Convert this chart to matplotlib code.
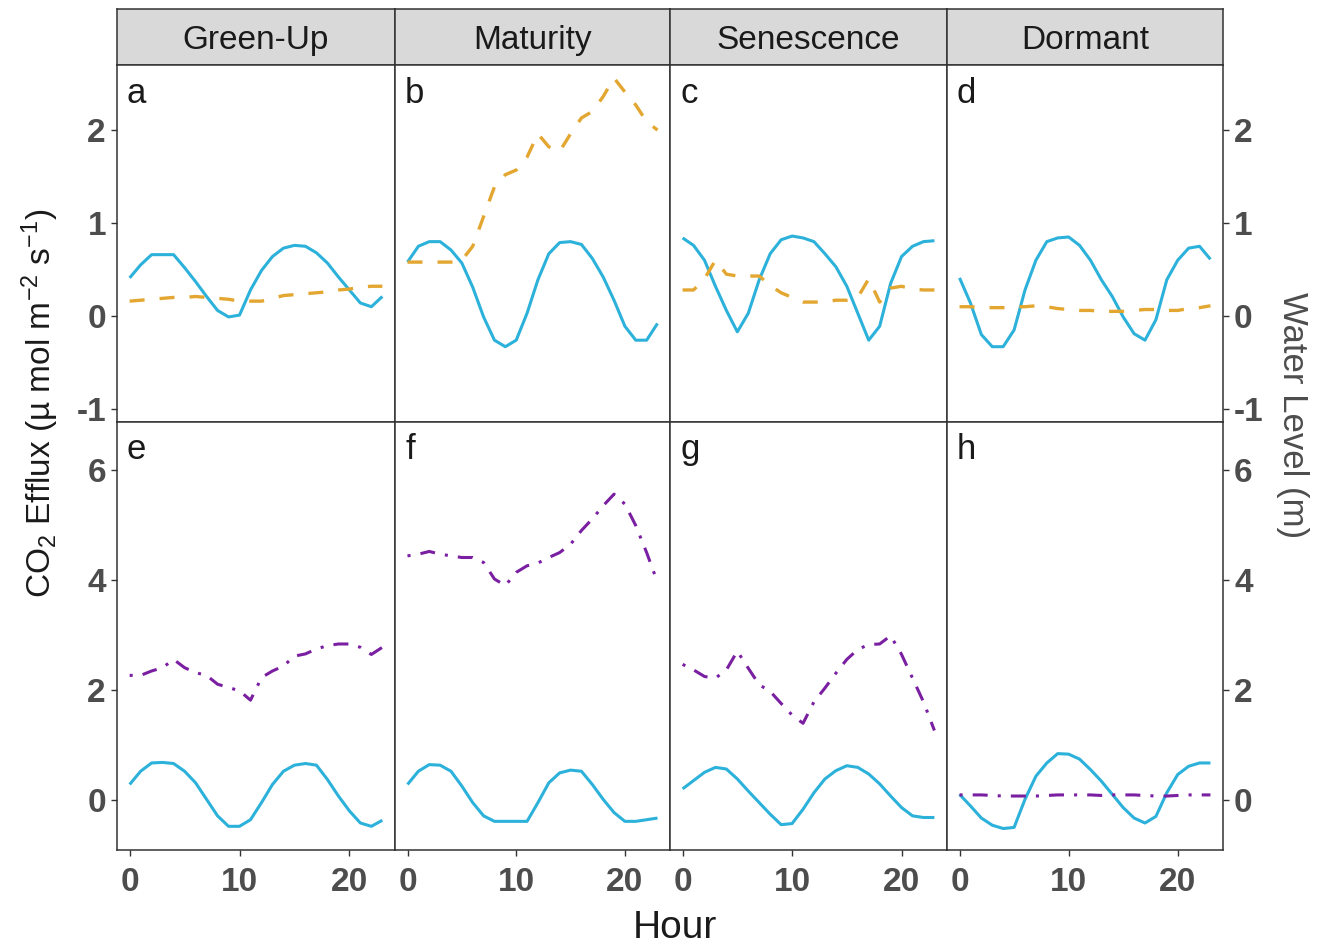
#%% Imports
import numpy as np
import matplotlib.pyplot as plt

plt.rcParams['font.family'] = ['Liberation Sans', 'DejaVu Sans']
plt.rcParams['mathtext.fontset'] = 'custom'
plt.rcParams['mathtext.rm'] = 'Liberation Sans'
plt.rcParams['mathtext.it'] = 'Liberation Sans:italic'
plt.rcParams['mathtext.bf'] = 'Liberation Sans:bold'
plt.rcParams['axes.unicode_minus'] = False

#%% Data (hourly)
hours = np.arange(24)
phases = ['Green-Up', 'Maturity', 'Senescence', 'Dormant']
letters_top = ['a', 'b', 'c', 'd']
letters_bottom = ['e', 'f', 'g', 'h']

# top row: CO2 efflux (solid) and water level (dashed)
co2_top_greenup = [0.41, 0.55, 0.66, 0.66, 0.66, 0.52, 0.37, 0.21, 0.06, -0.01, 0.01, 0.28,
                   0.49, 0.64, 0.73, 0.76, 0.75, 0.68, 0.57, 0.42, 0.28, 0.14, 0.10, 0.21]
co2_top_maturity = [0.58, 0.75, 0.80, 0.80, 0.71, 0.57, 0.31, -0.01, -0.26, -0.33, -0.26, 0.03,
                    0.39, 0.67, 0.79, 0.80, 0.77, 0.62, 0.42, 0.17, -0.11, -0.26, -0.26, -0.08]
co2_top_senescence = [0.84, 0.76, 0.60, 0.32, 0.06, -0.17, 0.03, 0.39, 0.67, 0.82, 0.86, 0.84,
                      0.80, 0.67, 0.53, 0.32, 0.03, -0.26, -0.11, 0.35, 0.64, 0.75, 0.80, 0.81]
co2_top_dormant = [0.41, 0.14, -0.20, -0.33, -0.33, -0.15, 0.28, 0.60, 0.80, 0.84, 0.85, 0.76,
                   0.60, 0.39, 0.21, -0.01, -0.19, -0.26, -0.04, 0.39, 0.60, 0.73, 0.75, 0.61]

level_top_greenup = [0.16, 0.17, 0.18, 0.19, 0.20, 0.20, 0.21, 0.20, 0.19, 0.18, 0.16, 0.16,
                     0.16, 0.19, 0.22, 0.23, 0.24, 0.25, 0.26, 0.28, 0.29, 0.31, 0.32, 0.32]
level_top_maturity = [0.58, 0.58, 0.58, 0.58, 0.58, 0.60, 0.75, 1.07, 1.39, 1.52, 1.57, 1.71,
                      1.96, 1.82, 1.77, 1.96, 2.13, 2.20, 2.36, 2.56, 2.41, 2.27, 2.09, 2.00]
level_top_senescence = [0.28, 0.28, 0.40, 0.60, 0.45, 0.43, 0.43, 0.43, 0.33, 0.25, 0.20, 0.15,
                        0.15, 0.15, 0.17, 0.17, 0.20, 0.40, 0.15, 0.30, 0.32, 0.29, 0.28, 0.28]
level_top_dormant = [0.10, 0.10, 0.09, 0.09, 0.09, 0.10, 0.10, 0.11, 0.10, 0.08, 0.07, 0.06,
                     0.06, 0.05, 0.05, 0.05, 0.06, 0.07, 0.07, 0.06, 0.06, 0.08, 0.09, 0.11]

# bottom row: CO2 efflux (solid) and water level (dot-dash)
co2_bot_greenup = [0.29, 0.53, 0.68, 0.69, 0.67, 0.53, 0.32, 0.02, -0.28, -0.47, -0.47, -0.35,
                   -0.04, 0.29, 0.53, 0.64, 0.67, 0.64, 0.38, 0.08, -0.19, -0.41, -0.47, -0.36]
co2_bot_maturity = [0.29, 0.53, 0.65, 0.64, 0.53, 0.26, -0.04, -0.28, -0.38, -0.38, -0.38, -0.38,
                    -0.04, 0.32, 0.50, 0.55, 0.53, 0.29, 0.02, -0.22, -0.38, -0.38, -0.35, -0.32]
co2_bot_senescence = [0.21, 0.36, 0.51, 0.60, 0.57, 0.39, 0.17, -0.04, -0.25, -0.44, -0.42, -0.16,
                      0.14, 0.39, 0.54, 0.63, 0.60, 0.48, 0.30, 0.08, -0.13, -0.28, -0.31, -0.31]
co2_bot_dormant = [0.11, -0.10, -0.32, -0.45, -0.51, -0.49, 0.02, 0.44, 0.68, 0.85, 0.84, 0.75,
                   0.56, 0.35, 0.11, -0.13, -0.32, -0.41, -0.29, 0.14, 0.47, 0.62, 0.68, 0.68]

level_bot_greenup = [2.27, 2.27, 2.35, 2.41, 2.56, 2.41, 2.32, 2.27, 2.11, 2.05, 1.99, 1.82,
                     2.23, 2.35, 2.44, 2.62, 2.66, 2.75, 2.81, 2.84, 2.84, 2.78, 2.65, 2.78]
level_bot_maturity = [4.44, 4.47, 4.52, 4.47, 4.44, 4.41, 4.41, 4.32, 4.02, 3.90, 4.14, 4.26,
                      4.31, 4.41, 4.50, 4.65, 4.90, 5.11, 5.35, 5.56, 5.38, 4.99, 4.50, 3.96]
level_bot_senescence = [2.47, 2.37, 2.25, 2.22, 2.37, 2.71, 2.40, 2.10, 1.98, 1.76, 1.55, 1.40,
                        1.79, 2.04, 2.31, 2.56, 2.74, 2.83, 2.84, 2.99, 2.65, 2.22, 1.79, 1.27]
level_bot_dormant = [0.10, 0.10, 0.10, 0.09, 0.08, 0.08, 0.08, 0.08, 0.09, 0.10, 0.10, 0.10,
                     0.10, 0.09, 0.10, 0.10, 0.10, 0.09, 0.08, 0.08, 0.09, 0.10, 0.10, 0.10]

co2_top = [co2_top_greenup, co2_top_maturity, co2_top_senescence, co2_top_dormant]
level_top = [level_top_greenup, level_top_maturity, level_top_senescence, level_top_dormant]
co2_bot = [co2_bot_greenup, co2_bot_maturity, co2_bot_senescence, co2_bot_dormant]
level_bot = [level_bot_greenup, level_bot_maturity, level_bot_senescence, level_bot_dormant]

#%% Styling
W, H = 1317, 947
blue = '#2CB1DA'
orange = '#E3A731'
purple = '#7A1FA2'
frame = '#333333'
tick_grey = '#4D4D4D'
col_edges = [117, 395, 670, 947, 1223]


def px_box(x0, y0, x1, y1):
    return [x0 / W, 1 - y1 / H, (x1 - x0) / W, (y1 - y0) / H]


def style_panel(ax):
    for sp in ax.spines.values():
        sp.set_color(frame)
        sp.set_linewidth(1.1)
    ax.tick_params(axis='both', which='both', length=4, width=1.0, color=frame,
                   labelsize=24, labelcolor=tick_grey, pad=4)
    for axis in (ax.xaxis, ax.yaxis):
        for t in axis.get_major_ticks():
            t.label1.set_fontweight('bold')
            t.label2.set_fontweight('bold')
    ax.set_xlim(-1.15, 24.15)


#%% Plot
fig = plt.figure(figsize=(W / 100, H / 100), dpi=100)

for c in range(4):
    x0, x1 = col_edges[c], col_edges[c + 1]

    # facet strip
    ax_s = fig.add_axes(px_box(x0, 9, x1, 65))
    ax_s.set_facecolor('#D9D9D9')
    ax_s.set_xticks([])
    ax_s.set_yticks([])
    for sp in ax_s.spines.values():
        sp.set_color(frame)
        sp.set_linewidth(1.1)
    ax_s.text(0.5, 0.43, phases[c], ha='center', va='center', fontsize=24, color='#1A1A1A',
              transform=ax_s.transAxes)

    # top row
    ax_t = fig.add_axes(px_box(x0, 65, x1, 422))
    ax_t.plot(hours, co2_top[c], color=blue, lw=2.2, solid_capstyle='butt')
    l1, = ax_t.plot(hours, level_top[c], color=orange, lw=2.4)
    l1.set_dashes([4.5, 4.5])
    ax_t.set_ylim(-1.14, 2.70)
    ax_t.set_yticks([-1, 0, 1, 2])
    ax_t.set_xticks([])
    ax_t.text(10 / (x1 - x0), 1 - 38 / 357, letters_top[c], transform=ax_t.transAxes,
              ha='left', va='baseline', fontsize=25, color='#1A1A1A')

    # bottom row
    ax_b = fig.add_axes(px_box(x0, 422, x1, 850))
    ax_b.plot(hours, co2_bot[c], color=blue, lw=2.2, solid_capstyle='butt')
    l2, = ax_b.plot(hours, level_bot[c], color=purple, lw=2.2)
    l2.set_dashes([1, 3.3, 4.9, 3.3])
    ax_b.set_ylim(-0.9, 6.87)
    ax_b.set_yticks([0, 2, 4, 6])
    ax_b.set_xticks([0, 10, 20])
    ax_b.text(10 / (x1 - x0), 1 - 37 / 428, letters_bottom[c], transform=ax_b.transAxes,
              ha='left', va='baseline', fontsize=25, color='#1A1A1A')

    for ax in (ax_t, ax_b):
        style_panel(ax)
        if c == 0:
            ax.tick_params(left=True, labelleft=True, right=False, labelright=False)
        elif c == 3:
            ax.tick_params(left=False, labelleft=False, right=True, labelright=True)
        else:
            ax.tick_params(left=False, labelleft=False)
    ax_b.tick_params(axis='x', pad=8)

# axis titles
fig.text(675 / W, 1 - 928 / H, 'Hour', ha='center', va='center', fontsize=28, color='#1A1A1A')
fig.text(40 / W, 1 - 403 / H, r'CO$_2$ Efflux (µ mol m$^{-2}$ s$^{-1}$)', rotation=90,
         ha='center', va='center', fontsize=24, color='#1A1A1A')
fig.text(1293 / W, 1 - 415 / H, 'Water Level (m)', rotation=270,
         ha='center', va='center', fontsize=25, color=tick_grey)

fig.savefig('out.png', dpi=100)
